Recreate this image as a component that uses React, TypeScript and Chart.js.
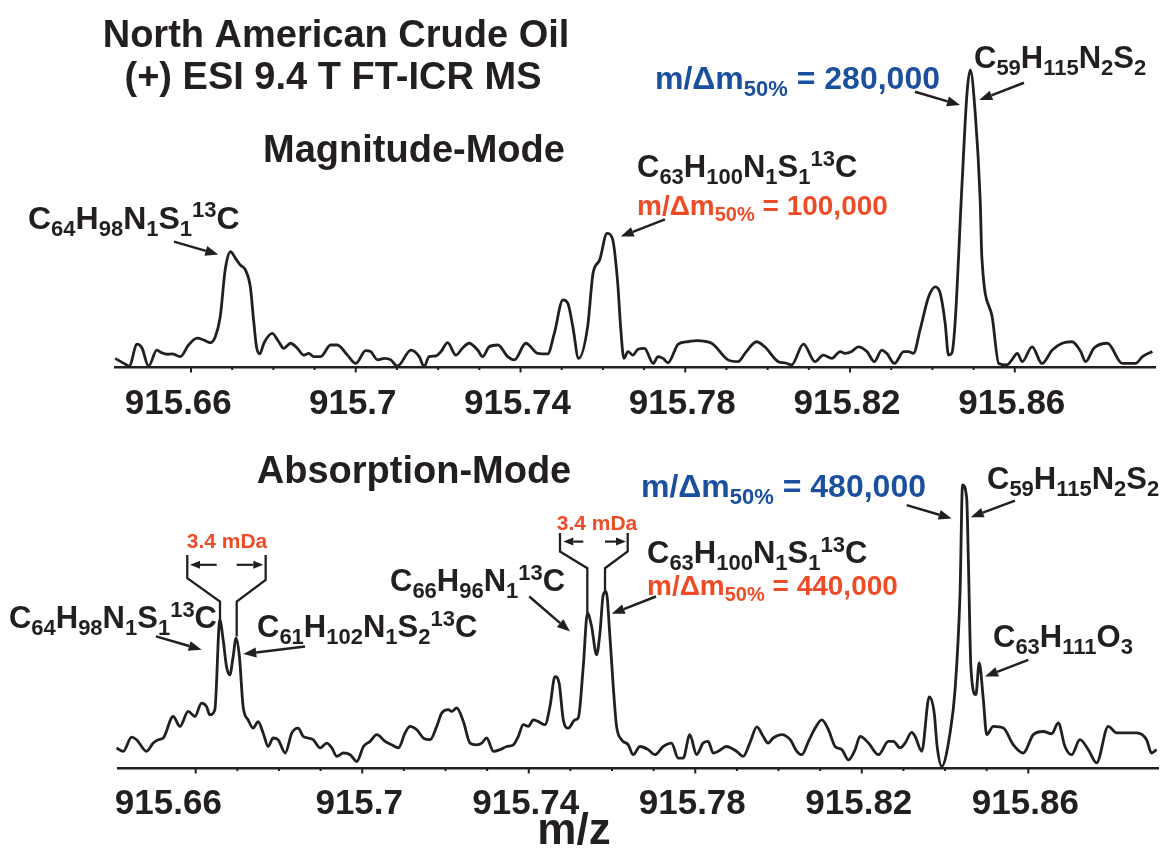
import { useEffect, useRef } from 'react';
import { Chart, registerables } from 'chart.js';

Chart.register(...registerables);

// ---------- data (m/z, relative intensity %) ----------
const magMz = [
  915.6416, 915.6444, 915.645, 915.6469, 915.6481, 915.6497, 915.6517, 915.6529, 915.6542, 915.6554,
  915.6574, 915.6594, 915.6615, 915.6631, 915.6647, 915.6659, 915.6671, 915.6683, 915.6696, 915.6708,
  915.672, 915.6732, 915.6744, 915.6752, 915.6759, 915.6767, 915.6777, 915.6797, 915.6813, 915.6825,
  915.6842, 915.6858, 915.6874, 915.6886, 915.6898, 915.6915, 915.6939, 915.6955, 915.698, 915.7,
  915.7024, 915.7036, 915.7053, 915.7069, 915.7085, 915.7101, 915.7134, 915.7154, 915.7166, 915.7178,
  915.7194, 915.7207, 915.7223, 915.7243, 915.7259, 915.7275, 915.7296, 915.7308, 915.7324, 915.7345,
  915.7369, 915.7385, 915.7413, 915.7442, 915.7466, 915.7482, 915.7503, 915.7515, 915.7527, 915.7541,
  915.7563, 915.7576, 915.7592, 915.761, 915.7623, 915.7636, 915.7643, 915.7651, 915.7661, 915.7673,
  915.7685, 915.7701, 915.7722, 915.7734, 915.7746, 915.7758, 915.7783, 915.7807, 915.7827, 915.7864,
  915.7904, 915.7928, 915.7945, 915.7973, 915.7993, 915.8026, 915.8042, 915.8058, 915.8087, 915.8115,
  915.8135, 915.8156, 915.8176, 915.8188, 915.8204, 915.822, 915.8241, 915.8259, 915.8277, 915.8289,
  915.8308, 915.833, 915.8342, 915.8354, 915.837, 915.8391, 915.8407, 915.8419, 915.8431, 915.8439,
  915.8447, 915.8455, 915.8472, 915.8484, 915.8492, 915.8504, 915.8516, 915.852, 915.8545, 915.8561,
  915.8581, 915.8593, 915.8606, 915.8618, 915.8642, 915.8666, 915.8691, 915.8715, 915.8739, 915.876,
  915.8772, 915.8792, 915.8825, 915.8861, 915.8893, 915.891, 915.8934,
];
const magInt = [
  2.9, 0.7, 0.3, 7.7, 6.4, 0.3, 5.7, 4.8, 4.3, 4.4,
  3.5, 7.4, 9.7, 9.1, 8.2, 10.2, 16.9, 32.7, 38.8, 36.6,
  34.3, 32.7, 27.0, 15.8, 6.8, 4.4, 8.0, 11.3, 8.5, 6.3,
  8.0, 6.3, 4.0, 4.6, 3.5, 3.5, 7.4, 7.4, 4.0, 1.2,
  5.5, 5.2, 2.4, 2.9, 2.4, 0.3, 5.7, 3.5, 0.1, 3.5,
  3.7, 5.2, 8.2, 4.0, 6.3, 8.0, 5.7, 3.5, 6.8, 7.4,
  3.5, 2.4, 8.0, 4.6, 4.4, 11.3, 22.6, 21.4, 13.6, 2.9,
  13.6, 31.5, 36.0, 45.0, 43.3, 28.2, 13.6, 2.9, 5.2, 4.0,
  6.0, 6.3, 1.2, 3.5, 2.9, 1.4, 7.7, 8.5, 8.9, 8.0,
  2.4, 1.8, 4.6, 8.5, 6.8, 1.8, 1.4, 0.7, 7.7, 1.8,
  4.0, 2.9, 5.2, 4.6, 5.2, 6.8, 5.2, 1.8, 5.7, 4.6,
  1.2, 5.2, 5.2, 4.6, 12.5, 23.7, 27.0, 24.8, 14.7, 4.0,
  4.6, 14.7, 61.9, 92.2, 100, 85.4, 56.2, 37.1, 16.9, 1.2,
  0.7, 2.4, 4.6, 1.8, 6.8, 1.2, 5.7, 8.0, 8.5, 5.2,
  1.8, 6.3, 8.0, 1.2, 1.2, 3.5, 5.2,
];

const absMz = [
  915.641, 915.6426, 915.6446, 915.6458, 915.6482, 915.6498, 915.651, 915.6522, 915.6546, 915.6562,
  915.6582, 915.6598, 915.6614, 915.6626, 915.6634, 915.6646, 915.6658, 915.6666, 915.6674, 915.6682,
  915.669, 915.6697, 915.6705, 915.6714, 915.6726, 915.6738, 915.675, 915.6762, 915.6774, 915.6786,
  915.6798, 915.6815, 915.6831, 915.6846, 915.6858, 915.687, 915.6882, 915.6899, 915.6915, 915.6927,
  915.6939, 915.6955, 915.6971, 915.6987, 915.7003, 915.7019, 915.7035, 915.7055, 915.7071, 915.7087,
  915.7103, 915.7115, 915.7131, 915.7147, 915.7163, 915.7179, 915.7191, 915.7207, 915.7215, 915.7227,
  915.7243, 915.7259, 915.7275, 915.7287, 915.7299, 915.7315, 915.7331, 915.7347, 915.7363, 915.7375,
  915.7387, 915.7399, 915.7411, 915.7423, 915.7439, 915.7451, 915.7463, 915.7473, 915.7483, 915.7495,
  915.7511, 915.7519, 915.7531, 915.7541, 915.7551, 915.7563, 915.7571, 915.7579, 915.7586, 915.7595,
  915.7603, 915.7611, 915.7623, 915.7639, 915.7651, 915.7667, 915.7687, 915.7703, 915.7723, 915.7743,
  915.7759, 915.7771, 915.7787, 915.7803, 915.7819, 915.7831, 915.7843, 915.7855, 915.7875, 915.7899,
  915.7915, 915.7931, 915.7948, 915.7963, 915.7975, 915.7987, 915.8008, 915.8028, 915.8044, 915.8056,
  915.8072, 915.8088, 915.8104, 915.812, 915.8136, 915.8152, 915.8168, 915.8184, 915.8196, 915.8216,
  915.824, 915.8264, 915.8276, 915.8292, 915.8304, 915.832, 915.8328, 915.8344, 915.8362, 915.8374,
  915.8381, 915.8392, 915.8412, 915.8424, 915.8436, 915.8442, 915.8452, 915.8456, 915.8462, 915.8474,
  915.8482, 915.8492, 915.85, 915.8516, 915.854, 915.8564, 915.8588, 915.8612, 915.8636, 915.8656,
  915.8672, 915.8688, 915.8704, 915.8724, 915.8744, 915.8764, 915.8792, 915.8812, 915.8828, 915.886,
  915.8884, 915.8896, 915.8908,
];
const absInt = [
  7.1, 5.9, 10.9, 10.0, 5.9, 8.8, 10.0, 10.6, 18.2, 14.7,
  20.0, 18.2, 22.9, 21.7, 18.8, 20.6, 52.3, 45.3, 35.9, 32.9,
  39.4, 45.9, 39.4, 21.7, 17.0, 14.1, 16.4, 12.4, 7.6, 10.6,
  10.0, 5.3, 12.4, 14.1, 11.2, 10.6, 10.0, 7.1, 8.8, 7.1,
  4.1, 5.3, 4.7, 2.3, 7.6, 9.4, 11.8, 9.4, 8.2, 7.1,
  12.4, 14.7, 13.5, 10.6, 10.0, 14.7, 19.4, 20.6, 20.0, 21.2,
  16.4, 8.8, 8.2, 8.8, 10.6, 5.9, 6.5, 7.6, 8.2, 11.2,
  15.3, 14.7, 17.0, 16.4, 15.3, 21.7, 32.3, 30.0, 17.0, 14.1,
  17.0, 17.7, 35.9, 54.7, 50.0, 40.0, 47.7, 61.2, 62.3, 46.5,
  28.8, 14.7, 10.0, 8.2, 4.7, 7.6, 6.5, 4.7, 7.6, 8.8,
  3.5, 3.5, 11.8, 4.7, 8.8, 9.4, 5.3, 5.9, 7.6, 5.9,
  4.1, 8.8, 14.5, 11.2, 8.8, 10.6, 11.8, 10.0, 5.9, 4.7,
  9.4, 14.1, 17.0, 13.5, 7.6, 6.5, 2.9, 6.5, 11.2, 8.8,
  4.7, 9.4, 9.4, 7.1, 8.8, 12.6, 11.2, 5.9, 25.1, 19.4,
  7.6, 0.6, 12.4, 27.6, 61.8, 100, 95.3, 73.5, 35.9, 25.9,
  37.1, 24.1, 11.8, 14.7, 14.1, 8.2, 5.3, 11.8, 12.9, 12.1,
  15.9, 7.6, 4.7, 10.0, 6.5, 1.8, 14.7, 12.4, 12.4, 12.4,
  10.0, 5.3, 6.5,
];

// axis ticks
const tickValues = [915.66, 915.67, 915.68, 915.69, 915.7, 915.71, 915.72, 915.73, 915.74, 915.75, 915.76,
  915.77, 915.78, 915.79, 915.8, 915.81, 915.82, 915.83, 915.84, 915.85, 915.86];
const majorTicks = [915.66, 915.7, 915.74, 915.78, 915.82, 915.86];
const magTickLabels = ['915.66  ', '915.7', '915.74', '915.78', '915.82', '915.86'];
const absTickLabels = ['915.66     ', '915.7', '915.74', '915.78', '915.82', '915.86'];

// axis ranges
const magRange = [915.64155, 915.89404];
const absRange = [915.64134, 915.89115];

// arrows: [tailMz, tailInt, tipMz, tipInt]
const magArrows = [
  [915.65587, 42.2, 915.66663, 37.9],
  [915.77508, 49.7, 915.76432, 43.9],
  [915.83577, 92.7, 915.8467, 88.2],
  [915.86223, 95.7, 915.85138, 89.9],
];
const absArrows = [
  [915.83079, 92.9, 915.8416, 88.2],
  [915.8568, 94.5, 915.84616, 88.6],
  [915.86, 38.2, 915.8496, 32.3],
  [915.65046, 46.5, 915.66144, 41.8],
  [915.68626, 42.9, 915.67143, 40.3],
  [915.74013, 60.6, 915.74991, 48.2],
  [915.77057, 60.6, 915.75993, 54.5],
];
// brackets (3.4 mDa): polylines [mz, int, ...] and double arrows
const absBracketLines = [
  [915.65798, 75.3, 915.65798, 67.1, 915.66584, 58.8, 915.66584, 52.3],
  [915.67681, 75.3, 915.67681, 66.5, 915.66985, 58.8, 915.66985, 46.5],
  [915.74751, 83.0, 915.74751, 76.5, 915.75407, 70.6, 915.75407, 54.7],
  [915.76377, 83.0, 915.76377, 76.5, 915.75832, 70.6, 915.75832, 62.3],
];
const absBracketArrows = [
  [915.66504, 71.8, 915.65863, 71.8],
  [915.66985, 71.8, 915.67624, 71.8],
  [915.75311, 80.0, 915.7483, 80.0],
  [915.75832, 80.0, 915.76336, 80.0],
];

const BLACK = '#231f20';
const BLUE = '#1b4f9f';
const RED = '#ee4c26';
const FONT = '"Liberation Sans", Arial, Helvetica, sans-serif';

type TextItem = { s: string; x: number; y: number; size: number; color: string; align?: 'left' | 'center' | 'right' };

const magTexts: TextItem[] = [
  { s: 'North American Crude Oil', x: 336, y: 47, size: 38, color: BLACK, align: 'center' },
  { s: '(+) ESI 9.4 T FT-ICR MS', x: 333, y: 89, size: 38, color: BLACK, align: 'center' },
  { s: 'Magnitude-Mode', x: 414, y: 162, size: 38, color: BLACK, align: 'center' },
  { s: 'm/Δm_{50%} = 280,000', x: 655, y: 89, size: 32, color: BLUE },
  { s: 'C_{59}H_{115}N_{2}S_{2}', x: 974, y: 68, size: 31, color: BLACK },
  { s: 'C_{63}H_{100}N_{1}S_{1}^{13}C', x: 637, y: 177, size: 31, color: BLACK },
  { s: 'm/Δm_{50%} = 100,000', x: 637, y: 215, size: 28, color: RED },
  { s: 'C_{64}H_{98}N_{1}S_{1}^{13}C', x: 28, y: 229, size: 32, color: BLACK },
];
const absTexts: TextItem[] = [
  { s: 'Absorption-Mode', x: 414, y: 43, size: 38, color: BLACK, align: 'center' },
  { s: 'm/Δm_{50%} = 480,000', x: 641, y: 57, size: 32, color: BLUE },
  { s: 'C_{59}H_{115}N_{2}S_{2}', x: 987, y: 49, size: 31, color: BLACK },
  { s: 'C_{63}H_{111}O_{3}', x: 993, y: 207, size: 31, color: BLACK },
  { s: '3.4 mDa', x: 227, y: 108, size: 21, color: RED, align: 'center' },
  { s: '3.4 mDa', x: 597, y: 90, size: 21, color: RED, align: 'center' },
  { s: 'C_{64}H_{98}N_{1}S_{1}^{13}C', x: 217, y: 188, size: 31, color: BLACK, align: 'right' },
  { s: 'C_{61}H_{102}N_{1}S_{2}^{13}C', x: 257, y: 197, size: 31, color: BLACK },
  { s: 'C_{66}H_{96}N_{1}^{13}C', x: 390, y: 151, size: 31, color: BLACK },
  { s: 'C_{63}H_{100}N_{1}S_{1}^{13}C', x: 647, y: 123, size: 31, color: BLACK },
  { s: 'm/Δm_{50%} = 440,000', x: 647, y: 155, size: 28, color: RED },
  { s: 'm/z', x: 574, y: 404, size: 44, color: BLACK, align: 'center' },
];

// ---------- drawing helpers ----------
type Seg = { t: string; k: number };
function parseRich(s: string): Seg[] {
  const segs: Seg[] = [];
  const re = /_\{([^}]*)\}|\^\{([^}]*)\}|([^_^]+)/g;
  let m: RegExpExecArray | null;
  while ((m = re.exec(s))) {
    if (m[1] !== undefined) segs.push({ t: m[1], k: 1 });
    else if (m[2] !== undefined) segs.push({ t: m[2], k: 2 });
    else segs.push({ t: m[3], k: 0 });
  }
  return segs;
}
function drawRich(ctx: CanvasRenderingContext2D, it: TextItem) {
  const segs = parseRich(it.s);
  const fontFor = (k: number) => `bold ${k === 0 ? it.size : Math.round(it.size * 0.7)}px ${FONT}`;
  let w = 0;
  for (const sg of segs) {
    ctx.font = fontFor(sg.k);
    w += ctx.measureText(sg.t).width;
  }
  let cx = it.align === 'center' ? it.x - w / 2 : it.align === 'right' ? it.x - w : it.x;
  ctx.fillStyle = it.color;
  ctx.textAlign = 'left';
  ctx.textBaseline = 'alphabetic';
  for (const sg of segs) {
    ctx.font = fontFor(sg.k);
    const dy = sg.k === 1 ? it.size * 0.23 : sg.k === 2 ? -it.size * 0.36 : 0;
    ctx.fillText(sg.t, cx, it.y + dy);
    cx += ctx.measureText(sg.t).width;
  }
}
function drawArrow(ctx: CanvasRenderingContext2D, x1: number, y1: number, x2: number, y2: number, hl: number, hw: number) {
  const a = Math.atan2(y2 - y1, x2 - x1);
  const bx = x2 - hl * Math.cos(a);
  const by = y2 - hl * Math.sin(a);
  ctx.beginPath();
  ctx.moveTo(x1, y1);
  ctx.lineTo(bx, by);
  ctx.stroke();
  ctx.beginPath();
  ctx.moveTo(x2, y2);
  ctx.lineTo(bx + hw * Math.sin(a), by - hw * Math.cos(a));
  ctx.lineTo(bx - hw * Math.sin(a), by + hw * Math.cos(a));
  ctx.closePath();
  ctx.fill();
}

function makeOverlay(texts: TextItem[], arrows: number[][], lines: number[][], dArrows: number[][]) {
  return {
    id: 'overlay',
    afterDraw(chart: any) {
      const { ctx, scales, chartArea } = chart;
      const xs = scales.x;
      const ys = scales.y;
      ctx.save();
      // tick marks
      ctx.strokeStyle = BLACK;
      ctx.lineWidth = 2;
      for (const v of tickValues) {
        const px = xs.getPixelForValue(v);
        const major = majorTicks.some((m) => Math.abs(m - v) < 1e-6);
        ctx.beginPath();
        ctx.moveTo(px, chartArea.bottom);
        ctx.lineTo(px, chartArea.bottom + (major ? 5.5 : 3));
        ctx.stroke();
      }
      // arrows
      ctx.fillStyle = BLACK;
      ctx.lineWidth = 2.5;
      ctx.lineCap = 'butt';
      for (const a of arrows) {
        drawArrow(ctx, xs.getPixelForValue(a[0]), ys.getPixelForValue(a[1]), xs.getPixelForValue(a[2]), ys.getPixelForValue(a[3]), 13, 5);
      }
      // bracket lines
      ctx.lineWidth = 2.3;
      ctx.lineJoin = 'miter';
      for (const l of lines) {
        ctx.beginPath();
        for (let i = 0; i < l.length; i += 2) {
          const px = xs.getPixelForValue(l[i]);
          const py = ys.getPixelForValue(l[i + 1]);
          if (i === 0) ctx.moveTo(px, py);
          else ctx.lineTo(px, py);
        }
        ctx.stroke();
      }
      ctx.lineWidth = 2.2;
      for (const a of dArrows) {
        drawArrow(ctx, xs.getPixelForValue(a[0]), ys.getPixelForValue(a[1]), xs.getPixelForValue(a[2]), ys.getPixelForValue(a[3]), 10, 4);
      }
      for (const t of texts) drawRich(ctx, t);
      ctx.restore();
    },
  };
}

function buildConfig(mz: number[], ints: number[], range: number[], pad: any, axisH: number, tickPad: number,
  labels: string[], labelOffset: number, overlay: any): any {
  return {
    type: 'line',
    data: {
      datasets: [
        {
          data: mz.map((x, i) => ({ x, y: ints[i] })),
          borderColor: BLACK,
          borderWidth: 2.8,
          pointRadius: 0,
          fill: false,
          cubicInterpolationMode: 'monotone',
          borderJoinStyle: 'round',
          clip: false,
        },
      ],
    },
    options: {
      animation: false,
      responsive: false,
      maintainAspectRatio: false,
      events: [],
      layout: { padding: pad },
      plugins: { legend: { display: false }, tooltip: { enabled: false }, title: { display: false } },
      scales: {
        x: {
          type: 'linear',
          min: range[0],
          max: range[1],
          afterBuildTicks: (ax: any) => {
            ax.ticks = tickValues.map((v) => ({ value: v }));
          },
          afterFit: (s: any) => {
            s.height = axisH;
          },
          grid: { display: false, drawTicks: false },
          border: { display: true, color: BLACK, width: 2.5 },
          ticks: {
            autoSkip: false,
            maxRotation: 0,
            padding: tickPad,
            labelOffset,
            color: BLACK,
            font: { family: FONT, size: 35, weight: 'bold' },
            callback: (v: number) => {
              const i = majorTicks.findIndex((m) => Math.abs(m - v) < 1e-6);
              return i >= 0 ? labels[i] : '';
            },
          },
        },
        y: { display: false, min: 0, max: 100 },
      },
    },
    plugins: [overlay],
  };
}

export default function App() {
  const topRef = useRef<HTMLCanvasElement>(null);
  const botRef = useRef<HTMLCanvasElement>(null);
  useEffect(() => {
    const c1 = new Chart(
      topRef.current!,
      buildConfig(magMz, magInt, magRange, { left: 115, right: 6, top: 70, bottom: 0 }, 73, 16.5,
        magTickLabels, -3, makeOverlay(magTexts, magArrows, [], []))
    );
    const c2 = new Chart(
      botRef.current!,
      buildConfig(absMz, absInt, absRange, { left: 118, right: 3, top: 45, bottom: 0 }, 89, 15,
        absTickLabels, -3, makeOverlay(absTexts, absArrows, absBracketLines, absBracketArrows))
    );
    return () => {
      c1.destroy();
      c2.destroy();
    };
  }, []);
  return (
    <div style={{ position: 'absolute', left: 0, top: 0, width: 1161, height: 857, background: '#fff' }}>
      <canvas ref={topRef} width={1161} height={440} style={{ position: 'absolute', left: 0, top: 0, width: 1161, height: 440 }} />
      <canvas ref={botRef} width={1161} height={417} style={{ position: 'absolute', left: 0, top: 440, width: 1161, height: 417 }} />
    </div>
  );
}
